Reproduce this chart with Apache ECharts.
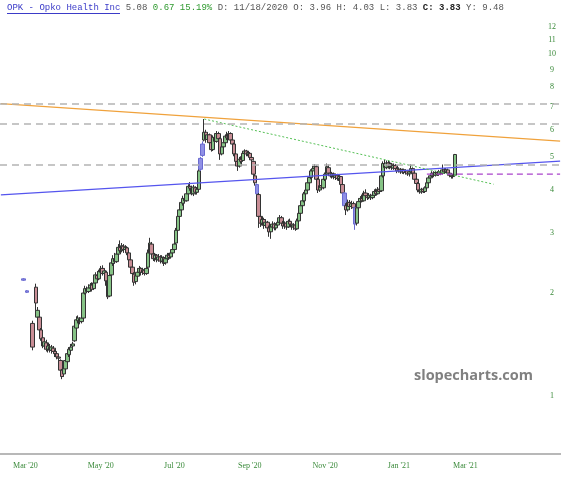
<!DOCTYPE html>
<html><head><meta charset="utf-8">
<script src="https://cdn.jsdelivr.net/npm/echarts@6/dist/echarts.min.js"></script>
<style>html,body{margin:0;padding:0;background:#fff}#c{width:561px;height:480px}</style>
</head><body><div id="c"></div>
<script>
// ---- categories (trading days) ----
const firstDay = '2020-02-10';
const holidays = ['2020-02-17','2020-04-10','2020-05-25','2020-07-03','2020-09-07','2020-11-26','2020-12-25','2021-01-01','2021-01-18','2021-02-15','2021-04-02'];
const nDays = 320;
const tickMonths = ["Mar '20","May '20","Jul '20","Sep '20","Nov '20","Jan '21","Mar '21"];
const yTickValues = [1,2,3,4,5,6,7,8,9,10,11,12];

// ---- OHLC data, one entry per trading day starting at dataStart ----
const dataStart = '2020-02-28';
const openV = [2.18,null,2.03,null,null,1.63,null,
2.08,1.70,1.70,1.56,1.48,1.40,1.43,1.37,1.39,1.36,
1.38,1.35,1.33,1.30,1.27,1.19,1.16,1.20,1.26,1.32,
1.36,1.40,1.45,1.58,1.66,1.68,1.65,1.69,2.00,2.06,
2.02,2.07,2.11,2.06,2.14,2.25,2.20,2.30,2.36,2.28,
2.30,2.17,1.96,2.26,2.44,2.52,2.47,2.60,2.72,2.66,
2.74,2.68,2.71,2.62,2.50,2.38,2.27,2.16,2.24,2.30,
2.36,2.30,2.33,2.28,2.38,2.62,2.78,2.60,2.52,2.58,
2.50,2.55,2.48,2.54,2.45,2.52,2.58,2.55,2.62,2.68,
2.80,3.05,3.35,3.50,3.66,3.78,3.72,3.90,4.10,4.05,
3.90,4.06,3.94,4.02,4.60,5.05,5.60,5.90,5.62,5.80,
5.50,5.25,5.70,5.55,5.85,5.65,5.10,5.35,5.50,5.75,
5.68,5.85,5.60,5.45,5.10,4.85,4.70,4.92,4.88,5.12,
5.20,5.10,5.12,4.98,4.85,4.40,4.15,3.88,3.35,3.20,
3.28,3.15,3.22,3.10,3.02,3.12,3.18,3.10,3.16,3.22,
3.32,3.20,3.14,3.20,3.12,3.24,3.18,3.12,3.16,3.08,
3.25,3.42,3.60,3.72,3.90,4.00,4.20,4.35,4.55,4.62,
4.68,4.30,4.00,4.12,4.06,4.30,4.45,4.65,4.48,4.40,
4.46,4.36,4.42,4.32,4.38,4.15,3.92,3.60,3.50,3.68,
3.58,3.65,3.55,3.20,3.55,3.70,3.78,3.72,3.92,3.85,
3.80,3.86,3.80,3.86,3.96,3.90,4.02,3.98,4.40,4.78,
4.65,4.80,4.70,4.76,4.64,4.72,4.62,4.55,4.60,4.52,
4.58,4.50,4.55,4.46,4.52,4.62,4.48,4.30,4.18,4.00,
3.95,4.02,3.96,4.06,4.20,4.34,4.40,4.48,4.42,4.50,
4.45,4.52,4.48,4.58,4.52,4.58,4.48,4.42,4.38,4.42];
const closeV = [2.20,null,2.01,null,null,1.39,null,
1.87,1.78,1.56,1.47,1.40,1.44,1.37,1.40,1.36,1.39,
1.35,1.33,1.30,1.29,1.19,1.14,1.22,1.27,1.33,1.37,
1.39,1.42,1.60,1.67,1.69,1.65,1.69,2.00,2.06,2.02,
2.07,2.11,2.05,2.14,2.26,2.20,2.31,2.36,2.28,2.32,
2.17,1.95,2.25,2.45,2.52,2.47,2.60,2.72,2.66,2.75,
2.68,2.72,2.62,2.50,2.38,2.28,2.15,2.25,2.30,2.36,
2.30,2.34,2.28,2.36,2.62,2.80,2.60,2.52,2.58,2.50,
2.55,2.48,2.54,2.44,2.52,2.58,2.54,2.62,2.68,2.78,
3.05,3.35,3.50,3.68,3.78,3.72,3.90,4.10,4.05,3.90,
4.08,3.94,4.02,4.55,4.95,5.45,5.90,5.62,5.80,5.50,
5.25,5.70,5.55,5.85,5.65,5.10,5.35,5.50,5.75,5.68,
5.85,5.60,5.45,5.10,4.85,4.70,4.92,4.85,5.12,5.20,
5.10,5.15,4.98,4.90,4.45,4.20,3.90,3.35,3.20,3.28,
3.15,3.22,3.10,3.02,3.12,3.18,3.10,3.16,3.22,3.32,
3.20,3.14,3.20,3.12,3.24,3.18,3.12,3.16,3.08,3.25,
3.42,3.60,3.72,3.90,4.00,4.20,4.35,4.55,4.62,4.68,
4.30,4.00,4.12,4.06,4.30,4.45,4.68,4.48,4.40,4.46,
4.36,4.42,4.32,4.38,4.15,3.92,3.60,3.50,3.68,3.58,
3.65,3.55,3.18,3.55,3.70,3.78,3.72,3.92,3.85,3.80,
3.86,3.80,3.86,3.96,3.90,4.02,3.96,4.40,4.78,4.65,
4.80,4.70,4.76,4.64,4.72,4.62,4.55,4.60,4.52,4.58,
4.50,4.55,4.46,4.52,4.62,4.48,4.30,4.18,4.00,3.95,
4.02,3.96,4.06,4.20,4.34,4.40,4.48,4.42,4.50,4.45,
4.52,4.48,4.58,4.52,4.58,4.48,4.42,4.38,4.41,5.08];
const lowV = [2.17,null,2.00,null,null,1.36,null,
1.76,1.66,1.53,1.45,1.38,1.37,1.35,1.34,1.34,1.33,
1.33,1.30,1.28,1.26,1.18,1.12,1.14,1.19,1.25,1.30,
1.35,1.38,1.44,1.55,1.63,1.62,1.63,1.68,1.98,2.00,
2.00,2.03,2.02,2.04,2.12,2.16,2.18,2.26,2.25,2.24,
2.10,1.92,1.95,2.24,2.40,2.44,2.45,2.58,2.62,2.63,
2.62,2.63,2.58,2.46,2.34,2.24,2.10,2.12,2.20,2.26,
2.25,2.26,2.25,2.26,2.36,2.58,2.55,2.48,2.47,2.46,
2.47,2.44,2.46,2.40,2.42,2.50,2.50,2.52,2.60,2.64,
2.78,3.02,3.30,3.45,3.60,3.66,3.70,3.86,3.98,3.86,
3.84,3.88,3.88,4.00,4.55,5.00,5.55,5.50,5.52,5.40,
5.18,5.20,5.45,5.50,5.55,4.90,5.05,5.30,5.45,5.60,
5.62,5.50,5.38,5.02,4.78,4.55,4.65,4.78,4.85,5.05,
5.02,5.02,4.92,4.82,4.38,4.12,3.85,3.10,3.12,3.15,
3.08,3.10,3.05,2.92,2.88,3.06,3.05,3.05,3.12,3.18,
3.15,3.08,3.08,3.06,3.10,3.12,3.06,3.06,3.04,3.06,
3.22,3.38,3.56,3.68,3.85,3.96,4.15,4.30,4.48,4.55,
4.25,3.92,3.95,4.00,4.02,4.25,4.42,4.40,4.35,4.32,
4.30,4.28,4.26,4.25,4.10,3.86,3.50,3.38,3.46,3.50,
3.52,3.48,3.06,3.15,3.50,3.64,3.68,3.70,3.80,3.74,
3.76,3.74,3.76,3.82,3.85,3.88,3.92,3.95,4.35,4.58,
4.60,4.62,4.60,4.58,4.58,4.55,4.48,4.50,4.46,4.46,
4.45,4.44,4.40,4.38,4.48,4.42,4.25,4.12,3.94,3.90,
3.90,3.92,3.92,4.02,4.16,4.30,4.36,4.36,4.38,4.40,
4.40,4.42,4.44,4.46,4.48,4.42,4.36,4.32,4.32,4.40];
const highV = [2.21,null,2.04,null,null,1.66,null,
2.13,1.82,1.72,1.58,1.50,1.47,1.46,1.43,1.42,1.41,
1.40,1.37,1.35,1.32,1.28,1.20,1.24,1.29,1.35,1.39,
1.42,1.44,1.62,1.71,1.72,1.70,1.71,2.02,2.10,2.09,
2.12,2.14,2.15,2.18,2.30,2.32,2.34,2.40,2.41,2.36,
2.33,2.20,2.28,2.50,2.58,2.62,2.65,2.78,2.85,2.80,
2.78,2.76,2.74,2.64,2.52,2.42,2.30,2.28,2.36,2.40,
2.38,2.37,2.36,2.40,2.68,2.90,2.82,2.64,2.62,2.60,
2.60,2.58,2.58,2.56,2.56,2.62,2.62,2.66,2.74,2.82,
3.10,3.40,3.56,3.74,3.85,3.84,3.96,4.16,4.22,4.12,
4.14,4.10,4.08,4.62,5.00,5.55,6.45,6.00,5.90,5.85,
5.55,5.78,5.85,5.95,5.92,5.70,5.40,5.58,5.82,5.92,
5.95,5.90,5.65,5.50,5.15,4.95,5.00,5.02,5.18,5.26,
5.24,5.20,5.16,5.05,4.88,4.45,4.18,3.92,3.40,3.35,
3.32,3.28,3.25,3.15,3.18,3.24,3.22,3.20,3.26,3.38,
3.36,3.25,3.24,3.24,3.28,3.30,3.22,3.20,3.20,3.30,
3.46,3.65,3.78,3.95,4.05,4.26,4.40,4.60,4.70,4.76,
4.72,4.34,4.18,4.20,4.36,4.50,4.78,4.75,4.55,4.52,
4.50,4.46,4.46,4.42,4.40,4.18,3.95,3.66,3.75,3.74,
3.72,3.70,3.58,3.60,3.78,3.84,3.88,3.98,4.02,3.92,
3.92,3.90,3.92,4.02,4.04,4.08,4.10,4.46,4.85,4.90,
4.88,4.88,4.85,4.80,4.78,4.76,4.68,4.66,4.64,4.62,
4.62,4.60,4.58,4.56,4.76,4.66,4.52,4.35,4.22,4.05,
4.06,4.06,4.10,4.25,4.40,4.46,4.54,4.54,4.55,4.54,
4.58,4.56,4.75,4.64,4.64,4.62,4.52,4.48,4.46,5.10];
// days (offset from dataStart) drawn in blue
const blueOffsets = [0, 2, 101, 102, 133, 183, 189];

// ---- study lines ----
const horizLevels = [7.13, 6.25, 4.74];
const orangeLine = {from: 0, to: 319, v: [7.15, 5.56]};
const blueLine = {from: 0, to: 319, v: [3.87, 4.86]};
const greenLine = {from: 116, to: 281, v: [6.45, 4.16]};
const purpleLine = {from: 243, to: 319, v: [4.45, 4.45]};

// build trading-day categories
const categories = [];
(function(){
  let d = new Date(firstDay + 'T00:00:00Z');
  while (categories.length < nDays) {
    const wd = d.getUTCDay();
    const s = d.toISOString().slice(0, 10);
    if (wd !== 0 && wd !== 6 && holidays.indexOf(s) < 0) categories.push(s);
    d.setUTCDate(d.getUTCDate() + 1);
  }
})();
const MN = ['Jan','Feb','Mar','Apr','May','Jun','Jul','Aug','Sep','Oct','Nov','Dec'];
function monthLabel(idx) {
  const s = categories[idx];
  if (idx > 0 && categories[idx-1].slice(0,7) === s.slice(0,7)) return null;
  const lab = MN[+s.slice(5,7)-1] + " '" + s.slice(2,4);
  return tickMonths.indexOf(lab) >= 0 ? lab : null;
}
const startIdx = categories.indexOf(dataStart);
const candleData = categories.map((c, i) => {
  const k = i - startIdx;
  if (k < 0 || k >= openV.length || openV[k] == null) return '-';
  const item = {value: [openV[k], closeV[k], lowV[k], highV[k]]};
  if (blueOffsets.indexOf(k) >= 0) {
    item.itemStyle = {color: '#9090e6', color0: '#9090e6', borderColor: '#6a6ad0', borderColor0: '#6a6ad0'};
  }
  return item;
});
function seg(o) { return [[categories[o.from], o.v[0]], [categories[o.to], o.v[1]]]; }

const chart = echarts.init(document.getElementById('c'), null, {renderer: 'canvas'});
chart.setOption({
  animation: false,
  backgroundColor: '#fff',
  grid: {left: 0, right: 0, top: 0, bottom: 26, containLabel: false},
  xAxis: {
    type: 'category', data: categories, boundaryGap: true,
    axisLine: {show: true, lineStyle: {color: '#a0a0a0', width: 1.5}},
    axisTick: {show: false},
    splitLine: {show: false},
    axisLabel: {
      interval: (idx) => monthLabel(idx) !== null,
      formatter: (v, idx) => monthLabel(idx) || '',
      color: '#3a8a3a', fontSize: 8, fontFamily: 'Liberation Serif', margin: 8
    }
  },
  yAxis: {
    type: 'log', logBase: 10, min: 0.6769, max: 14.37, position: 'right',
    axisLine: {show: false}, axisTick: {show: false}, splitLine: {show: false},
    axisLabel: {
      inside: true, customValues: yTickValues, align: 'center', margin: 9,
      color: '#3a8a3a', fontSize: 8, fontFamily: 'Liberation Serif',
      formatter: (v) => String(Math.round(v))
    }
  },
  series: [
    {
      type: 'candlestick', data: candleData, barWidth: 4,
      itemStyle: {color: '#86c386', color0: '#c98e96', borderColor: '#333', borderColor0: '#333', borderWidth: 1},
      markLine: {
        silent: true, symbol: 'none', label: {show: false},
        lineStyle: {color: '#b4b4b4', type: [7, 5], width: 1.5},
        data: horizLevels.map(v => ({yAxis: v}))
      },
      z: 3
    },
    {type: 'line', data: seg(orangeLine), symbol: 'none', lineStyle: {color: '#f0a23c', width: 1.2}, z: 4, silent: true},
    {type: 'line', data: seg(blueLine), symbol: 'none', lineStyle: {color: '#5555ee', width: 1.2}, z: 4, silent: true},
    {type: 'line', data: seg(greenLine), symbol: 'none', lineStyle: {color: '#55c055', width: 1, type: [2, 2]}, z: 4, silent: true},
    {type: 'line', data: seg(purpleLine), symbol: 'none', lineStyle: {color: '#aa44cc', width: 1.2, type: [6, 4]}, z: 4, silent: true}
  ],
  graphic: [
    {type: 'text', left: 7, top: 3, z: 10, style: {
      text: '{t|OPK - Opko Health Inc} {g|5.08} {u|0.67 15.19%} {g|D: 11/18/2020 O: 3.96 H: 4.03 L: 3.83} {c|C: 3.83} {g|Y: 9.48}',
      font: '9px "Liberation Mono"',
      rich: {
        t: {fill: '#3b3bc8', font: '9px "Liberation Mono"'},
        g: {fill: '#555', font: '9px "Liberation Mono"'},
        u: {fill: '#2f9a2f', font: '9px "Liberation Mono"'},
        c: {fill: '#222', font: 'bold 9px "Liberation Mono"'}
      }
    }},
    {type: 'line', z: 10, shape: {x1: 7, y1: 13.5, x2: 120, y2: 13.5}, style: {stroke: '#3b3bc8', lineWidth: 1}},
    {type: 'text', left: 414, top: 368, z: 10, style: {
      text: 'slopecharts.com', font: 'bold 14.5px "Open Sans"', fill: '#808080'
    }}
  ]
});
</script>
</body></html>
